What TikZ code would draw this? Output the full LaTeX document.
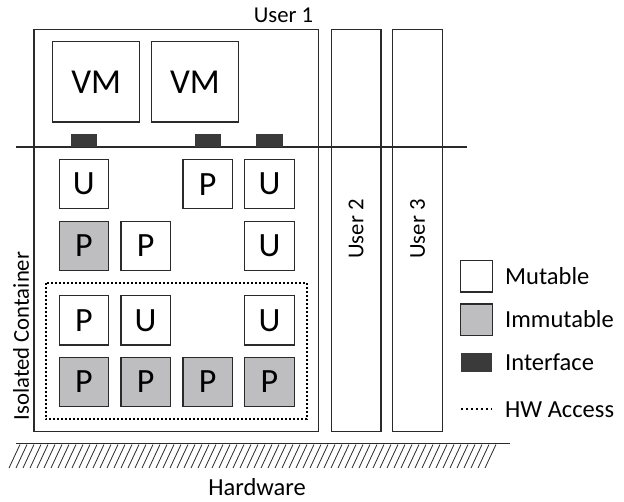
\documentclass[tikz,border=0pt]{standalone}
\usepackage{fontspec}
\setmainfont{Carlito}
\definecolor{immgray}{HTML}{BEBEC0}
\definecolor{ifdark}{HTML}{3A3A3A}
\definecolor{edge}{HTML}{2A2A2A}
\begin{document}
\begin{tikzpicture}[x=1pt,y=-1pt,
  outer/.style={draw=edge,line width=1.2pt,inner sep=0pt,minimum width=50pt,minimum height=402.2pt},
  vmbox/.style={draw=edge,line width=1.2pt,inner sep=0pt,minimum width=87pt,minimum height=80.3pt,font=\fontsize{35}{40}\selectfont},
  mbox/.style={draw=edge,line width=1.2pt,fill=white,inner sep=0pt,minimum width=49.5pt,minimum height=49.3pt,font=\fontsize{34}{40}\selectfont},
  ibox/.style={mbox,fill=immgray},
  iface/.style={fill=ifdark,inner sep=0pt,minimum width=26.3pt,minimum height=12.7pt},
  lbl/.style={font=\fontsize{22.7}{26}\selectfont,inner sep=0pt},
  legtxt/.style={font=\fontsize{24.5}{28}\selectfont,inner sep=0pt,anchor=base west},
  legbox/.style={draw=edge,line width=1.2pt,inner sep=0pt,minimum width=31.6pt,minimum height=31.3pt},
  hwdots/.style={line width=2pt,dash pattern=on 2pt off 2pt}
]
\useasboundingbox (0,0) rectangle (624,501);
% user boxes
\node[outer,minimum width=284.5pt] (user1) at (176.25,230.6) {};
\node[outer,minimum width=49.7pt] (user2) at (356.15,230.6) {};
\node[outer] (user3) at (417.7,230.6) {};
\node[lbl,anchor=base] (u1lbl) at (283.5,22) {User 1};
\node[lbl,rotate=90] (u2lbl) at (user2.center |- 0,229) {User 2};
\node[lbl,rotate=90] (u3lbl) at (user3.center |- 0,229) {User 3};
\node[lbl,rotate=90] (iclbl) at (21,336) {Isolated Container};
% VMs
\node[vmbox] (vm1) at (96.2,81.85) {VM};
\node[vmbox,minimum width=86.6pt] (vm2) at (195,81.85) {VM};
% interface line
\coordinate (busL) at (16,146.7);
\coordinate (busR) at (467,146.7);
\draw[line width=2.4pt,color=edge] (busL) -- (busR);
\node[iface] (if1) at (83.85,140.35) {};
\node[iface] (if2) at (207.65,140.35) {};
\node[iface] (if3) at (269.5,140.35) {};
% dotted HW access box
\draw[hwdots] (46,282.7) rectangle (307,419.3);
% small boxes
\node[mbox] (r1a) at (83.85,184.2) {U};
\node[mbox] (r1c) at (207.65,184.2) {P};
\node[mbox] (r1d) at (269.5,184.2) {U};
\node[ibox] (r2a) at (83.85,246) {P};
\node[mbox] (r2b) at (145.65,246) {P};
\node[mbox] (r2d) at (269.5,246) {U};
\node[mbox] (r3a) at (83.85,320.35) {P};
\node[mbox] (r3b) at (145.65,320.35) {U};
\node[mbox] (r3d) at (269.5,320.35) {U};
\node[ibox] (r4a) at (83.85,382) {P};
\node[ibox] (r4b) at (145.65,382) {P};
\node[ibox] (r4c) at (207.65,382) {P};
\node[ibox] (r4d) at (269.5,382) {P};
% hardware
\coordinate (gndL) at (16,443.5);
\coordinate (gndR) at (510,443.5);
\draw[line width=1.6pt,color=edge] (gndL) -- (gndR);
\foreach \x in {20,27,...,497} \draw[line width=0.8pt,color=edge] (\x,444.5) -- (\x-11,468);
\node[anchor=base,inner sep=0pt,font=\fontsize{24.5}{28}\selectfont] (hw) at (257,495) {Hardware};
% legend
\node[legbox] (lm) at (476.5,276.35) {};
\node[legbox,fill=immgray] (li) at (476.5,319.65) {};
\node[fill=ifdark,inner sep=0pt,minimum width=31.6pt,minimum height=19pt] (lf) at (476.5,362.8) {};
\coordinate (ldL) at (461,409.3);
\coordinate (ldR) at (492,409.3);
\draw[line width=2pt,dash pattern=on 2pt off 3pt] (ldL) -- (ldR);
\node[legtxt] (tm) at (505,284.3) {Mutable};
\node[legtxt] (ti) at (505,327.6) {Immutable};
\node[legtxt] (tf) at (505,370.8) {Interface};
\node[legtxt] (td) at (505,417) {HW Access};
\end{tikzpicture}
\end{document}
